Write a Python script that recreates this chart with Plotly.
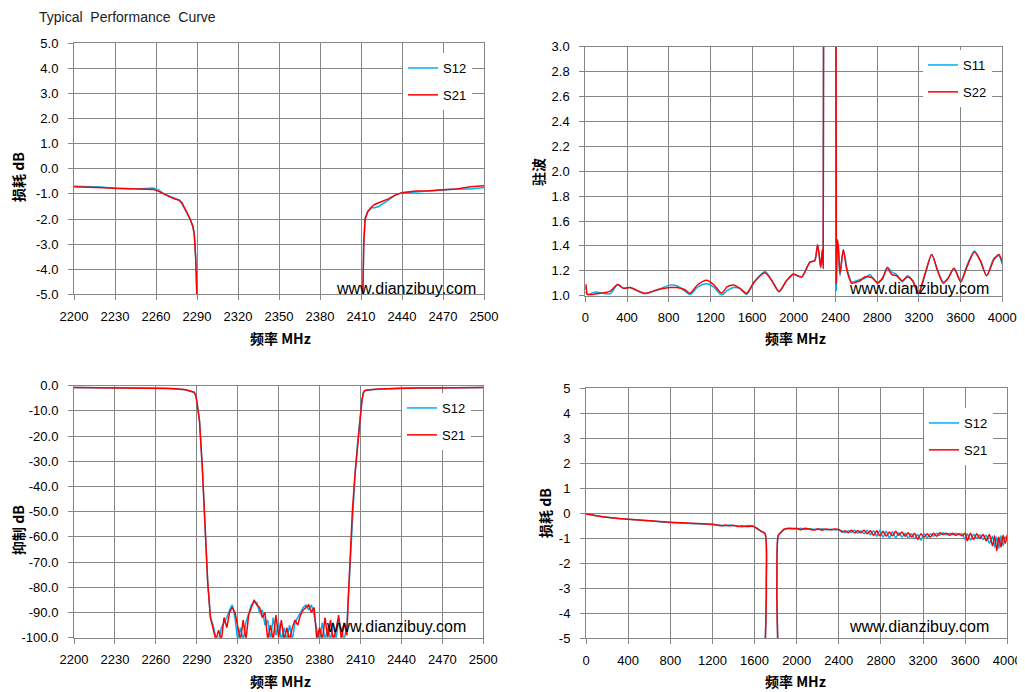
import plotly.graph_objects as go
from plotly.subplots import make_subplots

# ---- band-stop filter, insertion loss / rejection (top-left and bottom-left share data)
bs_freq = ([2200, 2210, 2220, 2230, 2240, 2250, 2258, 2262, 2266, 2270, 2274, 2277, 2279,
            2281, 2283, 2285, 2287, 2288, 2289, 2290, 2292, 2294, 2296, 2298, 2300]
           + list(range(2302, 2401, 2))
           + [2401, 2402, 2403, 2404, 2406, 2408, 2410, 2411, 2412, 2413, 2415, 2418, 2420,
              2423, 2426, 2430, 2435, 2440, 2450, 2460, 2470, 2480, 2490, 2500])

bs_s12 = ([-0.70, -0.71, -0.73, -0.78, -0.80, -0.79, -0.77, -0.85, -1.00, -1.10, -1.18, -1.25, -1.40,
           -1.60, -1.82, -2.02, -2.30, -2.60, -3.50, -6.0, -14.0, -32.0, -55.0, -78.0, -92.0]
          + [-95, -100, -101, -96, -94, -92, -89, -87, -92, -101, -96, -101, -94, -90, -87, -86,
             -86, -90, -89, -95, -93, -101, -92, -99, -94, -101, -96, -101, -95, -101, -94, -92,
             -90, -88, -87, -89, -87, -91, -97, -101, -94, -101, -96, -101, -94, -101, -93, -97,
             -101, -95]
          + [-85, -72, -60, -50, -35, -22, -10, -6.0, -3.0, -2.0, -1.70, -1.55, -1.55,
             -1.50, -1.40, -1.25, -1.05, -0.95, -0.92, -0.88, -0.82, -0.80, -0.80, -0.75])

bs_s21 = ([-0.72, -0.74, -0.75, -0.75, -0.77, -0.79, -0.82, -0.90, -1.02, -1.12, -1.20, -1.25, -1.35,
           -1.55, -1.80, -2.00, -2.30, -2.60, -3.50, -6.0, -14.0, -32.0, -55.0, -78.0, -92.0]
          + [-97, -101, -97, -101, -92, -96, -90, -88, -90, -95, -101, -93, -101, -91, -88, -85,
             -87, -88, -92, -90, -101, -95, -101, -91, -100, -93, -101, -96, -101, -96, -93, -95,
             -91, -89, -88, -87, -90, -88, -101, -96, -101, -92, -100, -93, -101, -97, -91, -101,
             -94, -99]
          + [-85, -72, -60, -50, -35, -22, -10, -6.0, -3.0, -2.0, -1.70, -1.50, -1.42,
             -1.35, -1.28, -1.20, -1.05, -0.95, -0.88, -0.87, -0.83, -0.80, -0.72, -0.68])

# ---- VSWR (top-right)
vswr_freq = [0, 7, 20, 100, 237, 311, 365, 429, 573, 700, 812, 877, 950, 1004, 1080, 1164, 1230,
             1308, 1360, 1420, 1480, 1548, 1620, 1724, 1790, 1858, 1930, 1995, 2075, 2155, 2200,
             2229, 2258, 2273, 2282, 2287, 2295, 2395, 2403, 2408, 2418, 2427, 2443, 2475, 2510,
             2555, 2600, 2635, 2680, 2731, 2760, 2801, 2850, 2897, 2940, 2987, 3040, 3089, 3140,
             3195, 3260, 3323, 3380, 3434, 3480, 3537, 3601, 3660, 3732, 3790, 3850, 3920, 3968, 4000]
vswr_s11 = [1.02, 1.03, 1.01, 1.03, 1.015, 1.09, 1.06, 1.065, 1.015, 1.05, 1.085, 1.08, 1.04, 1.01,
            1.07, 1.095, 1.07, 1.005, 1.04, 1.065, 1.06, 1.01, 1.11, 1.195, 1.12, 1.03, 1.12, 1.17,
            1.15, 1.27, 1.28, 1.41, 1.22, 1.36, 1.25, 8.0, 20.0, 20.0, 8.0, 1.04, 1.40, 1.38, 1.16,
            1.37, 1.22, 1.11, 1.12, 1.13, 1.14, 1.17, 1.14, 1.11, 1.13, 1.23, 1.19, 1.17, 1.11, 1.16,
            1.12, 1.01, 1.17, 1.33, 1.20, 1.11, 1.14, 1.22, 1.12, 1.24, 1.36, 1.28, 1.16, 1.30, 1.32, 1.25]
vswr_s22 = [1.05, 1.09, 1.01, 1.015, 1.035, 1.09, 1.06, 1.065, 1.02, 1.05, 1.065, 1.065, 1.05, 1.02,
            1.09, 1.125, 1.09, 1.02, 1.07, 1.085, 1.06, 1.02, 1.11, 1.185, 1.12, 1.035, 1.12, 1.175,
            1.15, 1.27, 1.28, 1.41, 1.23, 1.37, 1.22, 8.0, 20.0, 20.0, 8.0, 1.10, 1.45, 1.40, 1.18,
            1.37, 1.20, 1.10, 1.11, 1.12, 1.15, 1.15, 1.14, 1.10, 1.14, 1.22, 1.17, 1.16, 1.12, 1.15,
            1.12, 1.02, 1.18, 1.33, 1.20, 1.10, 1.14, 1.22, 1.11, 1.23, 1.35, 1.28, 1.16, 1.29, 1.33, 1.27]

# ---- wideband insertion loss (bottom-right)
wb_freq = [0, 100, 200, 400, 600, 800, 1000, 1200, 1280, 1320, 1360, 1400, 1440, 1480, 1520, 1580,
           1620, 1660, 1700, 1712, 1720, 1800, 1812, 1825, 1850, 1880, 1920, 1960, 2000, 2040, 2080,
           2120, 2160, 2200, 2240, 2280, 2320, 2360, 2400, 2430, 2460, 2490, 2520, 2550, 2580, 2610,
           2640, 2670, 2700, 2730, 2760, 2790, 2820, 2850, 2880, 2910, 2940, 2970, 3000, 3030, 3060,
           3090, 3120, 3150, 3180, 3210, 3240, 3270, 3300, 3330, 3360, 3390, 3420, 3450, 3480, 3510,
           3540, 3570, 3600, 3620, 3650, 3680, 3710, 3740, 3770, 3800, 3830, 3860, 3880, 3900, 3920,
           3940, 3960, 3980, 4000]
wb_s12 = [-0.03, -0.10, -0.16, -0.24, -0.30, -0.37, -0.41, -0.45, -0.48, -0.50, -0.47, -0.50, -0.50,
          -0.55, -0.50, -0.50, -0.58, -0.70, -0.80, -3.0, -12.0, -12.0, -3.0, -0.88, -0.75, -0.63,
          -0.62, -0.60, -0.63, -0.60, -0.65, -0.62, -0.64, -0.65, -0.62, -0.66, -0.64, -0.66, -0.66,
          -0.70, -0.78, -0.70, -0.76, -0.68, -0.80, -0.70, -0.82, -0.68, -0.86, -0.70, -0.92, -0.68,
          -0.95, -0.72, -0.98, -0.74, -0.98, -0.78, -0.95, -0.80, -0.98, -0.82, -1.02, -0.85, -1.08,
          -0.82, -0.98, -0.82, -0.92, -0.80, -0.88, -0.78, -0.86, -0.80, -0.86, -0.80, -0.86, -0.82,
          -1.05, -0.82, -1.08, -0.84, -1.00, -0.86, -1.05, -0.88, -1.20, -0.92, -1.35, -0.95, -1.40,
          -0.90, -1.30, -0.95, -1.00]
wb_s21 = [-0.03, -0.10, -0.16, -0.24, -0.30, -0.36, -0.40, -0.44, -0.50, -0.47, -0.50, -0.48, -0.53,
          -0.50, -0.53, -0.52, -0.60, -0.72, -0.82, -3.0, -12.0, -12.0, -3.0, -0.90, -0.78, -0.65,
          -0.60, -0.62, -0.60, -0.66, -0.60, -0.63, -0.67, -0.62, -0.67, -0.63, -0.66, -0.63, -0.65,
          -0.75, -0.70, -0.78, -0.68, -0.78, -0.70, -0.78, -0.68, -0.82, -0.70, -0.88, -0.70, -0.90,
          -0.72, -0.92, -0.75, -0.90, -0.72, -0.88, -0.75, -0.92, -0.78, -0.95, -0.80, -1.05, -0.82,
          -0.95, -0.82, -0.95, -0.80, -0.92, -0.78, -0.85, -0.80, -0.88, -0.80, -0.88, -0.82, -0.90,
          -0.80, -1.10, -0.80, -1.05, -0.82, -1.00, -0.85, -1.10, -0.85, -1.30, -0.90, -1.50, -0.95,
          -1.35, -0.88, -1.20, -0.85]

# ---- ticks
ticks_bs_x = [2200, 2230, 2260, 2290, 2320, 2350, 2380, 2410, 2440, 2470, 2500]
ticks_wb_x = [0, 400, 800, 1200, 1600, 2000, 2400, 2800, 3200, 3600, 4000]
ticks_tl_y = [5, 4, 3, 2, 1, 0, -1, -2, -3, -4, -5]
ticks_tr_y = [3.0, 2.8, 2.6, 2.4, 2.2, 2.0, 1.8, 1.6, 1.4, 1.2, 1.0]
ticks_bl_y = [0, -10, -20, -30, -40, -50, -60, -70, -80, -90, -100]
ticks_br_y = [5, 4, 3, 2, 1, 0, -1, -2, -3, -4, -5]

BLUE = '#00B0F0'
RED = '#FF0000'
GRID = '#868686'
FONT = 'Liberation Sans'
CJK = 'Noto Sans CJK SC'
OFF = 8                      # page body margin of the browser
W, H = 1025 - OFF, 692 - OFF


def fx(px):
    return (px - OFF) / W


def fy(py):
    return 1 - (py - OFF) / H


fig = make_subplots(rows=2, cols=2)

panels = [
    (1, 1, bs_freq, bs_s12, bs_s21, 'S12', 'S21', 'legend', 'linear'),
    (1, 2, vswr_freq, vswr_s11, vswr_s22, 'S11', 'S22', 'legend2', 'spline'),
    (2, 1, bs_freq, bs_s12, bs_s21, 'S12', 'S21', 'legend3', 'linear'),
    (2, 2, wb_freq, wb_s12, wb_s21, 'S12', 'S21', 'legend4', 'spline'),
]
for row, col, xs, ya, yb, na, nb, leg, shape in panels:
    fig.add_trace(go.Scatter(x=xs, y=ya, name=na, mode='lines', legend=leg, legendgroup=leg + 'a',
                             line=dict(color=BLUE, width=1.5, shape=shape, smoothing=0.7)),
                  row=row, col=col)
    fig.add_trace(go.Scatter(x=xs, y=yb, name=nb, mode='lines', legend=leg, legendgroup=leg + 'b',
                             line=dict(color=RED, width=1.5, shape=shape, smoothing=0.7)),
                  row=row, col=col)

# pixel boxes of the four plot areas (left, right, top, bottom)
boxes = {
    (1, 1): (74, 484, 43.3, 294.3),
    (1, 2): (585.3, 1002.3, 46.7, 295.7),
    (2, 1): (74, 483.3, 385.7, 637.7),
    (2, 2): (586, 1007.3, 388.3, 638.3),
}
axis_common = dict(showgrid=True, gridcolor=GRID, gridwidth=1, showline=True, linecolor=GRID,
                   linewidth=1, mirror=True, ticks='outside', ticklen=5, tickcolor=GRID,
                   zeroline=False, automargin=False,
                   tickfont=dict(family=FONT, size=13, color='black'))

yspec = {
    (1, 1): ([-5, 5], ticks_tl_y, 1),
    (1, 2): ([1, 3], ticks_tr_y, 1),
    (2, 1): ([-100, 0], ticks_bl_y, 1),
    (2, 2): ([-5, 5], ticks_br_y, 0),
}
xspec = {
    (1, 1): ([2200, 2500], ticks_bs_x),
    (1, 2): ([0, 4000], ticks_wb_x),
    (2, 1): ([2200, 2500], ticks_bs_x),
    (2, 2): ([0, 4000], ticks_wb_x),
}
for (row, col), (l, r, t, b) in boxes.items():
    xr, xt = xspec[(row, col)]
    yr, yt, dec = yspec[(row, col)]
    fig.update_xaxes(domain=[fx(l), fx(r)], range=xr, tickvals=xt,
                     ticktext=[str(v) for v in xt], ticklabelstandoff=5,
                     row=row, col=col, **axis_common)
    fig.update_yaxes(domain=[fy(b), fy(t)], range=yr, tickvals=yt,
                     ticktext=[f'{v:.{dec}f}' for v in yt], ticklabelstandoff=7,
                     row=row, col=col, **axis_common)

# legends (one per panel)
leg_pos = {'legend': (403, 53), 'legend2': (923, 50), 'legend3': (402, 393), 'legend4': (924, 408)}
legend_layout = {}
for key, (px, py) in leg_pos.items():
    legend_layout[key] = dict(x=fx(px), y=fy(py), xanchor='left', yanchor='top',
                              bgcolor='white', borderwidth=0, traceorder='grouped',
                              tracegroupgap=7, font=dict(family=FONT, size=13, color='black'),
                              itemwidth=30)

annotations = [
    dict(text='Typical  Performance  Curve', x=fx(38), y=1.0, xanchor='left',
         yanchor='top', borderpad=0, font=dict(family=FONT, size=14, color='#222222')),
]
# watermarks
for cx, cy in [(406, 288), (919, 288), (396, 626), (919, 626)]:
    annotations.append(dict(text='www.dianzibuy.com', x=fx(cx), y=fy(cy), xanchor='center',
                            yanchor='middle', font=dict(family=FONT, size=16, color='black')))
# axis titles
for cx, cy in [(280, 338), (795, 338), (280, 681), (795, 681)]:
    annotations.append(dict(text='<b>频率 MHz</b>', x=fx(cx), y=fy(cy), xanchor='center',
                            yanchor='middle', font=dict(family=CJK, size=14, color='black')))
for txt, cx, cy in [('<b>损耗 dB</b>', 18, 177), ('<b>驻波</b>', 538, 172),
                    ('<b>抑制 dB</b>', 18, 530), ('<b>损耗 dB</b>', 545, 513)]:
    annotations.append(dict(text=txt, x=fx(cx), y=fy(cy), xanchor='center', yanchor='middle',
                            textangle=-90, font=dict(family=CJK, size=14, color='black')))
for a in annotations:
    a.update(xref='paper', yref='paper', showarrow=False)

fig.update_layout(width=W, height=H, margin=dict(l=0, r=0, t=0, b=0, autoexpand=False),
                  paper_bgcolor='white', plot_bgcolor='white', showlegend=True,
                  annotations=annotations, **legend_layout)

fig.write_html('out.html')
